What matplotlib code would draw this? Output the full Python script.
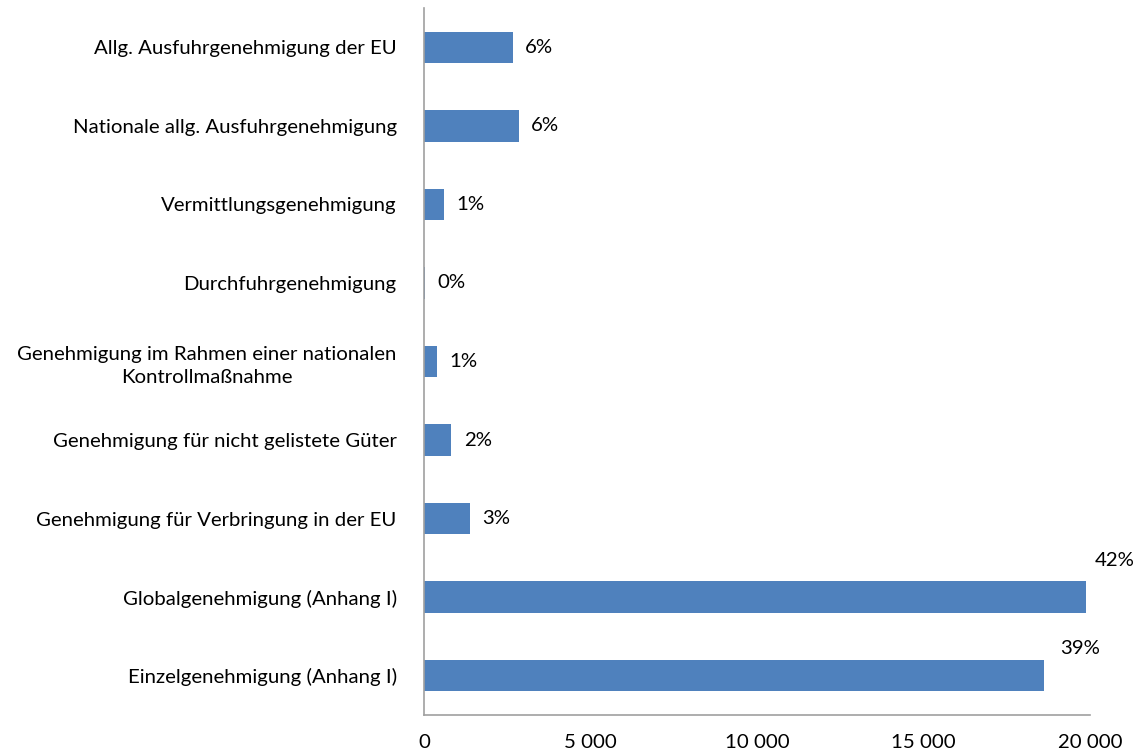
import numpy as np
import matplotlib.pyplot as plt

plt.rcParams['font.family'] = ['Lato', 'DejaVu Sans']

categories = [
    "Einzelgenehmigung (Anhang I)",
    "Globalgenehmigung (Anhang I)",
    "Genehmigung für Verbringung in der EU",
    "Genehmigung für nicht gelistete Güter",
    "Genehmigung im Rahmen einer nationalen\nKontrollmaßnahme",
    "Durchfuhrgenehmigung",
    "Vermittlungsgenehmigung",
    "Nationale allg. Ausfuhrgenehmigung",
    "Allg. Ausfuhrgenehmigung der EU",
]
values = [18610, 19890, 1370, 800, 370, 5, 590, 2830, 2650]
shares = ["39%", "42%", "3%", "2%", "1%", "0%", "1%", "6%", "6%"]

fs = 14.7
fig = plt.figure(figsize=(11.42, 7.55), dpi=100)
ax = fig.add_axes([0.3717, 0.053, 0.5828, 0.9364])

y = np.arange(len(categories))
bars = ax.barh(y, values, height=0.4, color="#4f81bd")

# the two long bars get their labels above, like Excel does near the edge
above = {0: (12, 2), 1: (6, 9)}
for i, (b, s, v) in enumerate(zip(bars, shares, values)):
    if i in above:
        ax.annotate(s, (v, b.get_y() + b.get_height()), xytext=above[i],
                    textcoords="offset points", ha="left", va="bottom", fontsize=fs)
    else:
        ax.annotate(s, (v, b.get_y() + b.get_height() / 2), xytext=(9, 0),
                    textcoords="offset points", ha="left", va="center", fontsize=fs)

ax.set_xlim(0, 20000)
ax.set_ylim(-0.5, len(categories) - 0.5)
ax.set_xticks([0, 5000, 10000, 15000, 20000])
ax.set_xticklabels(["0", "5 000", "10 000", "15 000", "20 000"], fontsize=fs)
ax.set_yticks(y)
ax.set_yticklabels(categories, fontsize=fs, multialignment="center", linespacing=1.45)
ax.tick_params(axis="both", length=0)
ax.tick_params(axis="x", pad=14)
ax.tick_params(axis="y", pad=20)

for side in ["top", "right"]:
    ax.spines[side].set_visible(False)
for side in ["left", "bottom"]:
    ax.spines[side].set_color("#a0a0a0")
    ax.spines[side].set_linewidth(1.2)

fig.savefig("out.png", dpi=100)
